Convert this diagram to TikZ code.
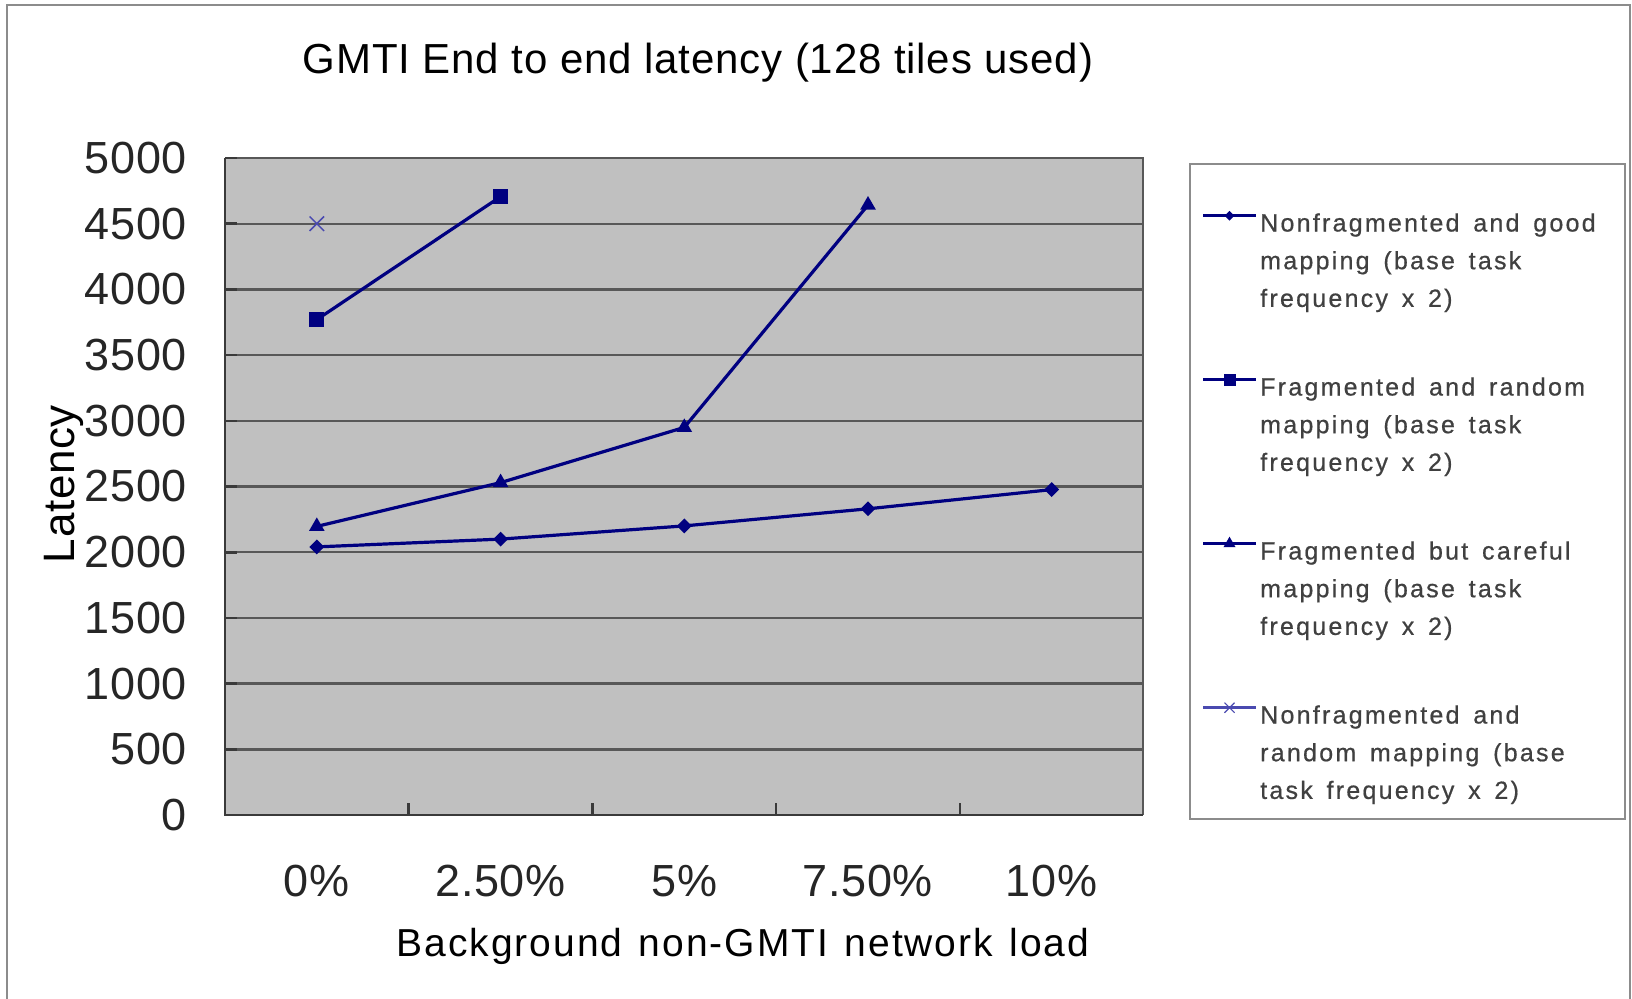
\documentclass[tikz,border=0pt]{standalone}
\usepackage{fontspec}
\setmainfont{Liberation Sans}
\newfontfamily\titlefont[LetterSpace=2.0]{Liberation Sans}
\newfontfamily\tickfont[LetterSpace=1.5]{Liberation Sans}
\newfontfamily\axfont[LetterSpace=5.0,WordSpace=1.3]{Liberation Sans}
\newfontfamily\legfont[LetterSpace=9.0,WordSpace=1.5,FakeBold=0.6]{Liberation Sans}
\usetikzlibrary{shapes.geometric,shapes.misc}
\definecolor{seriesblue}{HTML}{000080}
\definecolor{crossblue}{HTML}{4A4AB0}
\definecolor{plotgray}{HTML}{C0C0C0}
\definecolor{gridgray}{HTML}{585858}
\definecolor{axisgray}{HTML}{3A3A3A}
\definecolor{framegray}{HTML}{8C8C8C}
\definecolor{legtext}{HTML}{404040}
\tikzset{
  series/.style={draw=seriesblue, line width=3.2pt},
  dmark/.style={diamond, fill=seriesblue, inner sep=0pt, minimum width=#1, minimum height=#1},
  smark/.style={rectangle, fill=seriesblue, inner sep=0pt, minimum size=#1},
  tmark/.style={regular polygon, regular polygon sides=3, fill=seriesblue, inner sep=0pt, minimum size=#1},
  xmark/.style={cross out, draw=crossblue, line width=1.5pt, inner sep=0pt, minimum size=#1},
  gridline/.style={draw=gridgray, line width=2.4pt},
  axisline/.style={draw=axisgray, line width=2.6pt},
  ticklabel/.style={font=\tickfont\fontsize{45}{50}\selectfont, text=black!85, inner sep=0pt},
  legline/.style={font=\legfont\fontsize{25}{30}\selectfont, text=legtext, inner sep=0pt, anchor=base west},
}
\begin{document}
\begin{tikzpicture}[x=1pt,y=-1pt]
  \useasboundingbox (0,0) rectangle (1632,998);
  \fill[white] (0,0) rectangle (1632,998);
  % outer chart frame (its lower edge lies below the page)
  \draw[framegray, line width=2pt] (7,5) rectangle (1630,1020);

  % title
  \node[anchor=base, inner sep=0pt] (title) at (698,73.3)
    {\titlefont\fontsize{42}{50}\selectfont GMTI End to end latency (128 tiles used)};

  % plot area
  \fill[plotgray] (225,158) rectangle (1143,815);
  \foreach \i in {1,...,9}
    \draw[gridline] (225,{815-65.7*\i}) -- (1143,{815-65.7*\i});
  \draw[gridline] (225,158) -- (1143,158) -- (1143,815);
  \foreach \i in {0,...,10}
    \draw[axisline] (225,{815-65.7*\i}) -- (237,{815-65.7*\i});
  \draw[axisline] (225,158) -- (225,815) -- (1143,815);
  \foreach \k in {1,...,4}
    \draw[axisline] ({225+183.7*\k},815) -- ({225+183.7*\k},803);

  % y tick labels
  \foreach \i in {0,...,10}{
    \pgfmathtruncatemacro{\val}{500*\i}
    \node[ticklabel, anchor=east] (y\i) at (187,{815-65.7*\i}) {\val};
  }
  % x tick labels
  \foreach \lab [count=\k from 0] in {0\%,2.50\%,5\%,7.50\%,10\%}
    \node[ticklabel, anchor=base] (x\k) at ({316.8+183.7*\k},896.7) {\lab};

  % axis titles
  \node[anchor=base, inner sep=0pt] (xtitle) at (743,956.7)
    {\axfont\fontsize{39}{44}\selectfont Background non-GMTI network load};
  \node[rotate=90, anchor=base, inner sep=0pt] (ytitle) at (74.7,484)
    {\tickfont\fontsize{44}{50}\selectfont Latency};

  % data points
  \coordinate (a0) at (316.8,546.9);
  \coordinate (a1) at (500.6,539.1);
  \coordinate (a2) at (684.3,525.9);
  \coordinate (a3) at (868.0,508.8);
  \coordinate (a4) at (1051.7,489.6);
  \coordinate (b0) at (316.8,319.6);
  \coordinate (b1) at (500.6,196.6);
  \coordinate (c0) at (316.8,526.4);
  \coordinate (c1) at (500.6,482.6);
  \coordinate (c2) at (684.3,427.4);
  \coordinate (c3) at (868.0,205.0);
  \coordinate (d0) at (316.8,223.7);

  \draw[series] (a0) -- (a1) -- (a2) -- (a3) -- (a4);
  \draw[series] (b0) -- (b1);
  \draw[series] (c0) -- (c1) -- (c2) -- (c3);

  \foreach \p in {a0,a1,a2,a3,a4} \node[dmark=15pt] at (\p) {};
  \foreach \p in {b0,b1} \node[smark=15pt] at (\p) {};
  \foreach \p in {c0,c1,c2,c3} \node[tmark=18pt] at (\p) {};
  \node[xmark=13pt] at (d0) {};

  % legend
  \draw[framegray, line width=2pt] (1190,164) rectangle (1625,819);
  \foreach \n/\y in {1/215.7,2/379.7,3/543.7,4/707.7}{
    \coordinate (l\n w) at (1203,\y);
    \coordinate (l\n e) at (1256,\y);
    \coordinate (l\n m) at (1229.5,\y);
  }
  \draw[series, line width=2.6pt] (l1w) -- (l1e);
  \draw[series, line width=2.6pt] (l2w) -- (l2e);
  \draw[series, line width=2.6pt] (l3w) -- (l3e);
  \draw[series, draw=crossblue, line width=2.6pt] (l4w) -- (l4e);
  \node[dmark=10pt] at (l1m) {};
  \node[smark=12pt] at (l2m) {};
  \node[tmark=14pt] at (l3m) {};
  \node[xmark=9pt, line width=1.1pt] at (l4m) {};

  \node[legline] (t11) at (1260,231.5) {Nonfragmented and good};
  \node[legline] (t12) at (1260,269.2) {mapping (base task};
  \node[legline] (t13) at (1260,306.9) {frequency x 2)};
  \node[legline] (t21) at (1260,395.5) {Fragmented and random};
  \node[legline] (t22) at (1260,433.2) {mapping (base task};
  \node[legline] (t23) at (1260,470.9) {frequency x 2)};
  \node[legline] (t31) at (1260,559.5) {Fragmented but careful};
  \node[legline] (t32) at (1260,597.2) {mapping (base task};
  \node[legline] (t33) at (1260,634.9) {frequency x 2)};
  \node[legline] (t41) at (1260,723.5) {Nonfragmented and};
  \node[legline] (t42) at (1260,761.2) {random mapping (base};
  \node[legline] (t43) at (1260,798.9) {task frequency x 2)};
\end{tikzpicture}
\end{document}
